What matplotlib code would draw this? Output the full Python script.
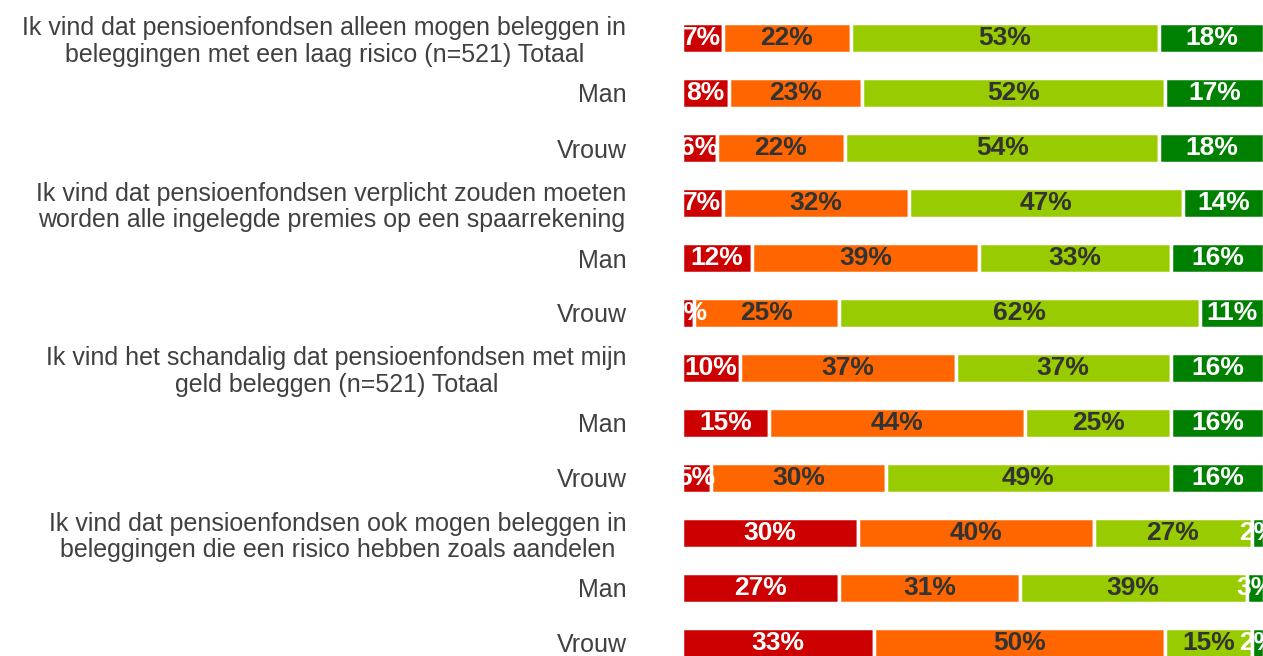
import matplotlib
matplotlib.use("Agg")
import matplotlib.pyplot as plt
import numpy as np

categories = [
    "Ik vind dat pensioenfondsen alleen mogen beleggen in\nbeleggingen met een laag risico (n=521) Totaal",
    "Man",
    "Vrouw",
    "Ik vind dat pensioenfondsen verplicht zouden moeten\nworden alle ingelegde premies op een spaarrekening",
    "Man",
    "Vrouw",
    "Ik vind het schandalig dat pensioenfondsen met mijn\ngeld beleggen (n=521) Totaal",
    "Man",
    "Vrouw",
    "Ik vind dat pensioenfondsen ook mogen beleggen in\nbeleggingen die een risico hebben zoals aandelen",
    "Man",
    "Vrouw",
]
helemaal_oneens = [7, 8, 6, 7, 12, 2, 10, 15, 5, 30, 27, 33]
oneens = [22, 23, 22, 32, 39, 25, 37, 44, 30, 40, 31, 50]
eens = [53, 52, 54, 47, 33, 62, 37, 25, 49, 27, 39, 15]
helemaal_eens = [18, 17, 18, 14, 16, 11, 16, 16, 16, 2, 3, 2]

series = [helemaal_oneens, oneens, eens, helemaal_eens]
colors = ["#CC0000", "#FF6600", "#99CC00", "#008000"]
text_colors = ["white", "#333333", "#333333", "white"]

W, H, DPI = 1263, 656, 100
fig = plt.figure(figsize=(W / DPI, H / DPI), dpi=DPI)
ax_left = 682 / W
ax_right = 1264 / W
ax = fig.add_axes([ax_left, 0, ax_right - ax_left, 1])

data = np.array(series, dtype=float)
totals = data.sum(axis=0)
pct = data / totals * 100
lefts = np.vstack([np.zeros(len(categories)), np.cumsum(pct, axis=0)[:-1]])
y = np.arange(len(categories))

for k in range(len(series)):
    bars = ax.barh(y, pct[k], left=lefts[k], height=0.555, color=colors[k],
                   edgecolor="white", linewidth=2.5)
    for i, b in enumerate(bars):
        cx = lefts[k][i] + pct[k][i] / 2
        ax.text(cx, y[i], f"{series[k][i]}%", ha="center", va="center",
                fontsize=19, fontweight="bold", color=text_colors[k],
                family="Liberation Sans", clip_on=True)

row_px = 55
top_center = 38
ax.set_ylim((H - top_center) / row_px, -top_center / row_px)
ax.set_xlim(0, 100)
ax.set_yticks(y)
ax.set_yticklabels(categories, fontsize=18, family="Liberation Sans",
                   color="#404040", multialignment="center", linespacing=1.12)
ax.tick_params(axis="y", length=0, pad=40)
ax.set_xticks([])
for s in ax.spines.values():
    s.set_visible(False)

fig.savefig("out.png", dpi=DPI)
